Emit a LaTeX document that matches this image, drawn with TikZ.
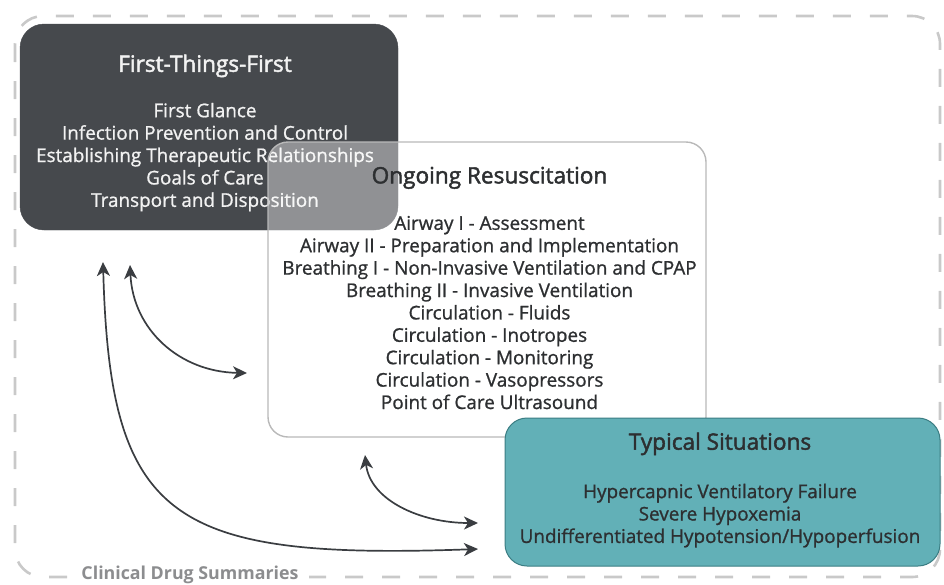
\documentclass[tikz,border=0pt]{standalone}
\usepackage{fontspec}
\setmainfont{Open Sans}
\newfontfamily\panelfont{Open Sans}[FakeBold=1.0]
\newfontfamily\headfont{Open Sans}[FakeBold=2.0]
\usepackage{tikz}
\usetikzlibrary{arrows.meta}
\definecolor{darkbox}{HTML}{46494D}
\definecolor{tealbox}{HTML}{62B0B7}
\definecolor{tealline}{HTML}{3B7D83}
\definecolor{framegray}{HTML}{C9C9C9}
\definecolor{arrowgray}{HTML}{3A3D41}
\definecolor{inkgray}{HTML}{2D2F31}
\definecolor{labelgray}{HTML}{8C8D8F}

\newcommand{\paneltitle}[2][23pt]{{\headfont\fontsize{22.6}{27}\selectfont #2}\\[#1]}

\begin{document}
\begin{tikzpicture}[%
  x=1pt, y=-1pt,
  every node/.style={font=\panelfont\fontsize{18.9}{22.4}\selectfont, align=center, inner sep=0pt},
  firstbox/.style={fill=darkbox, draw=darkbox,
    rounded corners=24pt, minimum width=378pt, minimum height=206pt},
  ongoingbox/.style={fill=white, fill opacity=0.4,
    draw=gray!55, line width=1.4pt, rounded corners=20pt,
    minimum width=438pt, minimum height=295pt},
  typicalbox/.style={fill=tealbox, draw=tealline, line width=1pt,
    rounded corners=22pt, minimum width=435pt, minimum height=148pt},
  link/.style={draw=arrowgray, line width=1.7pt,
    {Stealth[length=14pt,width=13pt,inset=4pt]}-{Stealth[length=14pt,width=13pt,inset=4pt]}}
  ]
  \useasboundingbox (0,0) rectangle (944,584);
  \draw[framegray, line width=2.6pt, dash pattern=on 18pt off 19pt, rounded corners=28pt]
    (15,16) rectangle (940,577);
  \node[fill=white, inner xsep=10pt, inner ysep=3pt, text=labelgray,
    font=\fontsize{17.8}{21}\selectfont\bfseries] (drugs) at (190,575) {Clinical Drug Summaries};

  \node[firstbox] (first) at (209,127) {};
  \node[text=white!95!black] (first-text) at (205,133) {\paneltitle{First-Things-First}
    First Glance\\ Infection Prevention and Control\\ Establishing Therapeutic Relationships\\
    Goals of Care\\ Transport and Disposition};

  \node[ongoingbox] (ongoing) at (487,289.5) {};
  \node[text=inkgray] (ongoing-text) at (489.5,288) {\paneltitle[24pt]{Ongoing Resuscitation}
    Airway I - Assessment\\ Airway II - Preparation and Implementation\\
    Breathing I - Non-Invasive Ventilation and CPAP\\ Breathing II - Invasive Ventilation\\
    Circulation - Fluids\\ Circulation - Inotropes\\ Circulation - Monitoring\\
    Circulation - Vasopressors\\ Point of Care Ultrasound};

  \node[typicalbox] (typical) at (722.5,492) {};
  \node[text=inkgray] (typical-text) at (720,490) {\paneltitle[26pt]{Typical Situations}
    Hypercapnic Ventilatory Failure\\ Severe Hypoxemia\\
    Undifferentiated Hypotension/Hypoperfusion};

  \coordinate (first-a) at (130,265);
  \coordinate (first-b) at (103,262);
  \coordinate (ongoing-a) at (247,373);
  \coordinate (ongoing-b) at (365,455);
  \coordinate (typical-a) at (478,523);
  \coordinate (typical-b) at (478,549);

  \path[link] (first-a) .. controls (133,330) and (180,372) .. (ongoing-a);
  \path[link] (first-b) .. controls (110,520) and (170,560) .. (typical-b);
  \path[link] (ongoing-b) .. controls (370,500) and (420,523) .. (typical-a);
\end{tikzpicture}
\end{document}
